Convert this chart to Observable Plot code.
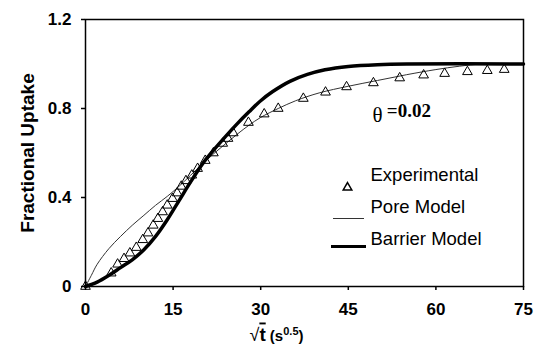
<!DOCTYPE html>
<html>
<head>
<meta charset="utf-8">
<script src="https://cdn.jsdelivr.net/npm/d3@7"></script>
<script src="https://cdn.jsdelivr.net/npm/@observablehq/plot@0.6"></script>
<style>
  html, body { margin: 0; padding: 0; background: #fff; }
  #chart { width: 537px; height: 352px; }
</style>
</head>
<body>
<div id="chart"></div>
<script>
// ---- Data ----
const xTicks = [0, 15, 30, 45, 60, 75];
const yTicks = [0, 0.4, 0.8, 1.2];
const yTickLabels = ["0", "0.4", "0.8", "1.2"];

// Experimental points (sqrt(t), fractional uptake)
const expX = [0, 4.4, 5.5, 6.6, 7.6, 8.7, 9.8, 10.7, 11.6, 12.4, 13.2, 14.0, 14.9, 15.7, 16.4, 17.2, 18.2, 19.2, 20.5, 21.9, 23.5, 24.4, 25.3, 27.9, 30.6, 33.0, 37.3, 41.1, 44.7, 49.3, 53.8, 57.9, 61.5, 65.4, 68.8, 71.7];
const expY = [0, 0.06, 0.10, 0.125, 0.15, 0.175, 0.21, 0.24, 0.275, 0.305, 0.335, 0.365, 0.395, 0.42, 0.45, 0.475, 0.50, 0.53, 0.566, 0.60, 0.643, 0.665, 0.69, 0.737, 0.775, 0.80, 0.845, 0.873, 0.897, 0.915, 0.937, 0.95, 0.957, 0.965, 0.97, 0.975];

// Pore model (thin line)
const poreX = [0, 1, 2, 4, 6, 8, 10, 12, 14, 16, 18, 20, 22, 24, 26, 28, 30, 33, 36, 40, 45, 50, 55, 60, 64, 68, 75];
const poreY = [0, 0.05, 0.1, 0.17, 0.225, 0.275, 0.32, 0.365, 0.405, 0.45, 0.5, 0.55, 0.598, 0.642, 0.685, 0.725, 0.76, 0.8, 0.835, 0.87, 0.9, 0.926, 0.952, 0.975, 0.99, 1.0, 1.0];

// Barrier model (thick line)
const barrierX = [0, 2, 4, 6, 8, 10, 12, 14, 16, 18, 20, 22, 24, 26, 28, 30, 32, 35, 38, 41, 45, 50, 55, 75];
const barrierY = [0, 0.02, 0.05, 0.085, 0.12, 0.165, 0.225, 0.3, 0.385, 0.47, 0.55, 0.615, 0.675, 0.732, 0.785, 0.835, 0.875, 0.922, 0.953, 0.974, 0.989, 0.997, 1.0, 1.0];

const legendNames = ["Experimental", "Pore Model", "Barrier Model"];
const yLabel = "Fractional Uptake";
const thetaSymbol = "θ";
const thetaValue = "=0.02";

// ---- Build tables ----
const exp = expX.map((x, i) => ({x, y: expY[i]}));
const pore = poreX.map((x, i) => ({x, y: poreY[i]}));
const barrier = barrierX.map((x, i) => ({x, y: barrierY[i]}));

const hline = (half) => ({
  draw(ctx) { ctx.moveTo(-half, 0); ctx.lineTo(half, 0); }
});

const sans = "'Liberation Sans', Arial, Helvetica, sans-serif";
const serif = "'Liberation Serif', 'Times New Roman', serif";

const chart = Plot.plot({
  width: 537,
  height: 352,
  marginLeft: 85,
  marginRight: 14,
  marginTop: 19,
  marginBottom: 66,
  x: {domain: [0, 75]},
  y: {domain: [0, 1.2]},
  style: {fontFamily: sans, color: "black", background: "white", overflow: "visible"},
  marks: [
    Plot.frame({stroke: "black", strokeWidth: 1.5}),
    Plot.axisX({ticks: xTicks, tickSize: 4, tickPadding: 12, fontSize: 17, fontWeight: "bold", label: null, strokeWidth: 1.5}),
    Plot.axisY({ticks: yTicks, tickFormat: (d) => yTickLabels[yTicks.indexOf(d)], tickSize: 4, tickPadding: 10, fontSize: 17, fontWeight: "bold", label: null, strokeWidth: 1.5}),
    Plot.line(pore, {x: "x", y: "y", curve: "catmull-rom", stroke: "#333", strokeWidth: 1}),
    Plot.line(barrier, {x: "x", y: "y", curve: "catmull-rom", stroke: "black", strokeWidth: 3.5}),
    Plot.dot(exp, {x: "x", y: "y", symbol: "triangle", r: 3.6, stroke: "black", strokeWidth: 1, fill: "none"}),
    // theta annotation
    Plot.text([thetaSymbol], {x: 50, y: 0.77, text: d => d, fontFamily: serif, fontSize: 21, textAnchor: "middle"}),
    Plot.text([thetaValue], {x: 51.6, y: 0.787, text: d => d, fontFamily: serif, fontSize: 19, fontWeight: "bold", textAnchor: "start"}),
    // legend
    Plot.dot([legendNames[0]], {frameAnchor: "bottom-right", dx: -176, dy: -99, symbol: "triangle", r: 3.2, stroke: "black", fill: "none"}),
    Plot.dot([legendNames[1]], {frameAnchor: "bottom-right", dx: -175, dy: -68, symbol: hline(15.5), r: 3, stroke: "#333", strokeWidth: 1}),
    Plot.dot([legendNames[2]], {frameAnchor: "bottom-right", dx: -175, dy: -40, symbol: hline(17.5), r: 3, stroke: "black", strokeWidth: 3.2}),
    Plot.text([legendNames[0]], {frameAnchor: "bottom-right", dx: -153, dy: -106, text: d => d, textAnchor: "start", fontSize: 18.5}),
    Plot.text([legendNames[1]], {frameAnchor: "bottom-right", dx: -153, dy: -74, text: d => d, textAnchor: "start", fontSize: 18.5}),
    Plot.text([legendNames[2]], {frameAnchor: "bottom-right", dx: -153, dy: -42, text: d => d, textAnchor: "start", fontSize: 18.5}),
    // axis titles
    Plot.text([yLabel], {frameAnchor: "left", dx: -58, text: d => d, rotate: -90, fontSize: 19, fontWeight: "bold", textAnchor: "middle"}),
    Plot.text(["xlabel"], {frameAnchor: "bottom", dx: -28, dy: 54, text: d => d, fontSize: 17, fontWeight: "bold", textAnchor: "middle", ariaDescription: "xlabel"})
  ]
});

document.getElementById("chart").appendChild(chart);

// Rich x-axis label: √t (s^0.5)
const xl = chart.querySelector('[aria-description="xlabel"] text');
if (xl) {
  xl.textContent = "";
  const ns = "http://www.w3.org/2000/svg";
  const add = (txt, attrs) => {
    const t = document.createElementNS(ns, "tspan");
    t.textContent = txt;
    for (const k in attrs) t.setAttribute(k, attrs[k]);
    xl.appendChild(t);
    return t;
  };
  add("√", {"font-weight": "normal", "font-size": 18});
  add("t", {"text-decoration": "overline", "font-size": 19});
  add(" (s", {"font-size": 15});
  add("0.5", {"font-size": 11, "dy": "-6"});
  add(")", {"font-size": 15, "dy": "6"});
}
</script>
</body>
</html>
